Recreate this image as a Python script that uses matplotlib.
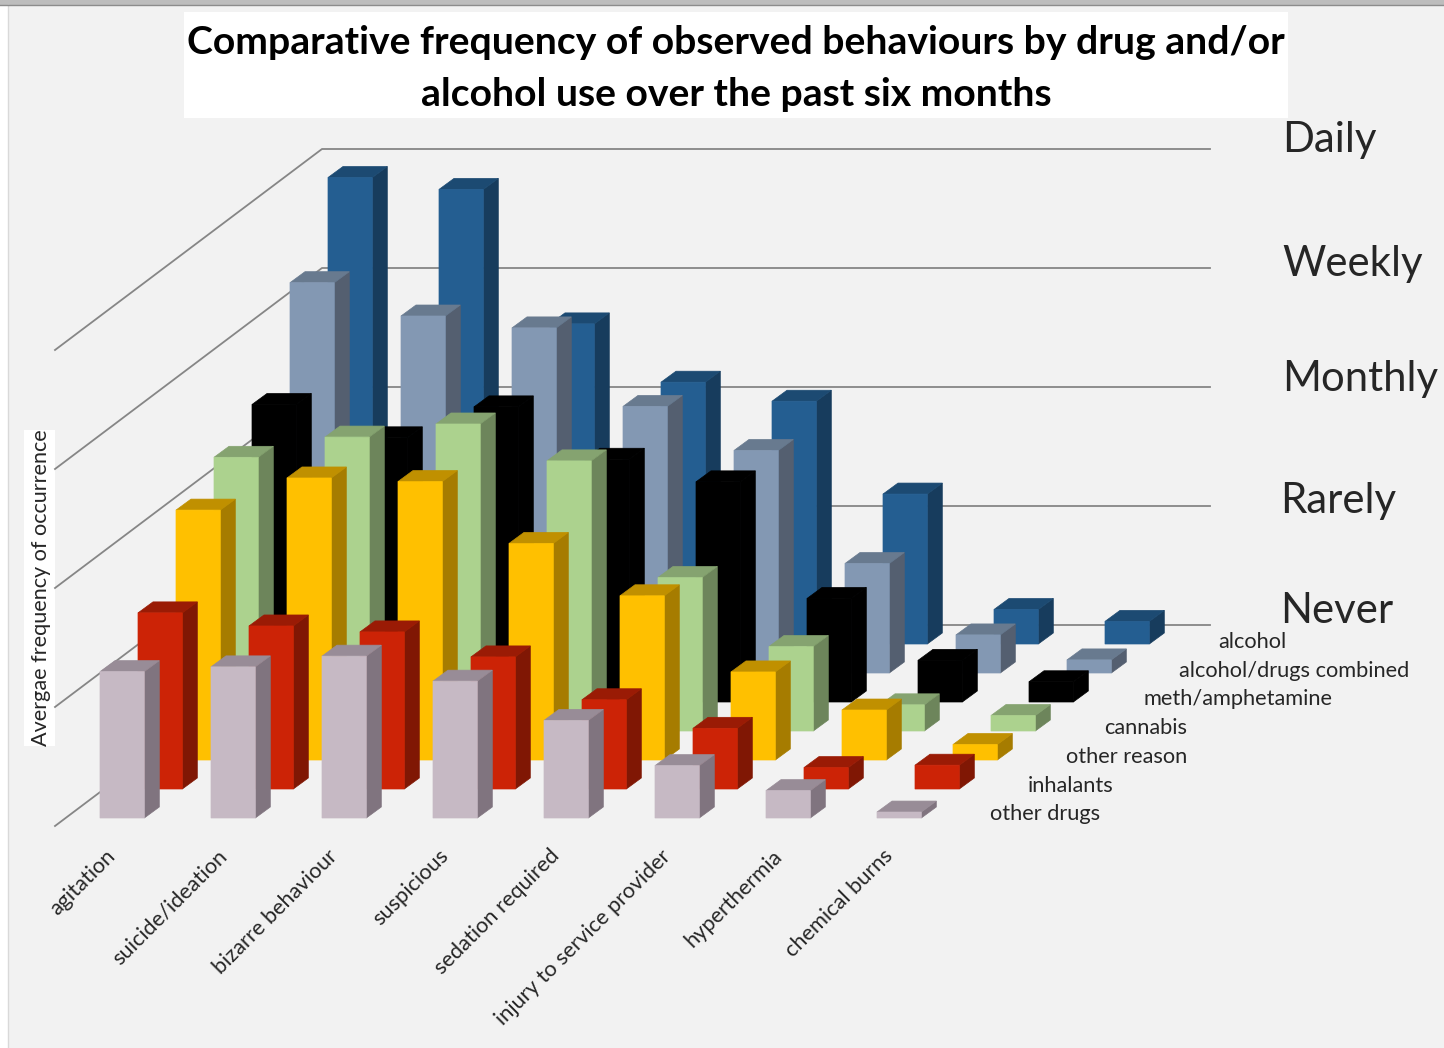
import matplotlib
matplotlib.use("Agg")
import matplotlib.pyplot as plt
from matplotlib.patches import Polygon, Rectangle

# ---- data: height above "Never" in scale steps (0 = Never ... 4 = Daily)
behaviours = ["agitation", "suicide/ideation", "bizarre behaviour", "suspicious",
              "sedation required", "injury to service provider", "hyperthermia", "chemical burns"]
levels = ["Never", "Rarely", "Monthly", "Weekly", "Daily"]
other_drugs = [1.23, 1.27, 1.36, 1.15, 0.82, 0.44, 0.23, 0.05]
inhalants = [1.48, 1.37, 1.32, 1.11, 0.75, 0.51, 0.18, 0.20]
other_reason = [2.10, 2.37, 2.34, 1.82, 1.38, 0.74, 0.42, 0.13]
cannabis = [2.30, 2.47, 2.58, 2.27, 1.29, 0.71, 0.22, 0.13]
meth = [2.50, 2.22, 2.48, 2.04, 1.85, 0.87, 0.35, 0.17]
combined = [3.28, 3.00, 2.90, 2.24, 1.87, 0.92, 0.32, 0.11]
alcohol = [3.92, 3.82, 2.69, 2.20, 2.04, 1.26, 0.29, 0.19]

series_names = ["other drugs", "inhalants", "other reason", "cannabis", "meth/amphetamine",
                "alcohol/drugs combined", "alcohol"]
series_values = [other_drugs, inhalants, other_reason, cannabis, meth, combined, alcohol]
face_colours = ["#c6b9c4", "#cc2306", "#ffc000", "#acd28e", "#000000", "#8398b3", "#245e91"]
top_colours = ["#988c97", "#9a1b05", "#c09000", "#85a370", "#000000", "#687a8f", "#1c4a72"]
side_colours = ["#80747f", "#801704", "#a67c00", "#6d855b", "#000000", "#545f70", "#173c5d"]

# ---- oblique projection (figure pixels)
X0, Y0 = 100.0, 818.0      # front-left corner of first bar in the first row
CAT_STEP = 111.0
ROW_DX, ROW_DY = 38.0, -29.0
BAR_W = 44.3
DEPTH_DX, DEPTH_DY = 15.0, -11.0
UNIT = 119.0


def project(cat, row, value=0.0):
    return (X0 + cat * CAT_STEP + row * ROW_DX, Y0 + row * ROW_DY - value * UNIT)


plt.rcParams["font.family"] = ["Lato", "DejaVu Sans"]
fig = plt.figure(figsize=(14.44, 10.48), dpi=100, facecolor="#ffffff")
ax = fig.add_axes([0, 0, 1, 1])
ax.set_xlim(0, 1444)
ax.set_ylim(1048, 0)
ax.axis("off")

# page background
ax.add_patch(Rectangle((8, 5), 1436, 1043, fc="#f2f2f2", ec="none", zorder=0))
ax.add_patch(Rectangle((0, 0), 1444, 5, fc="#bdbdbd", ec="none", zorder=1))
ax.plot([8, 8], [5, 1048], color="#d9d9d9", lw=1, zorder=1)
ax.plot([0, 1444], [5, 5], color="#8c8c8c", lw=1, zorder=1)

# title box
ax.add_patch(Rectangle((184, 12), 1104, 106, fc="white", ec="none", zorder=1))
ax.text(736, 43, "Comparative frequency of observed behaviours by drug and/or",
        ha="center", va="center", fontsize=28.2, fontweight="bold", color="black", zorder=2)
ax.text(736, 95, "alcohol use over the past six months",
        ha="center", va="center", fontsize=28.2, fontweight="bold", color="black", zorder=2)

# gridlines: one for each scale level, along the side wall then the back wall
n_rows = len(series_names)
for i, _ in enumerate(levels):
    y_front = Y0 + 8 - i * UNIT
    ax.plot([55, 322, 1210], [y_front, y_front - 201, y_front - 201], color="#868686", lw=1.3, zorder=2)

# bars, back row first
z = 3
for row in range(n_rows - 1, -1, -1):
    for cat in range(len(behaviours) - 1, -1, -1):
        v = series_values[row][cat]
        x, y_base = project(cat, row)
        _, y_top = project(cat, row, v)
        ax.add_patch(Polygon([(x + BAR_W, y_base), (x + BAR_W + DEPTH_DX, y_base + DEPTH_DY),
                              (x + BAR_W + DEPTH_DX, y_top + DEPTH_DY), (x + BAR_W, y_top)],
                             closed=True, fc=side_colours[row], ec=side_colours[row], lw=0.5,
                             zorder=z, snap=False))
        ax.add_patch(Polygon([(x, y_top), (x + BAR_W, y_top), (x + BAR_W + DEPTH_DX, y_top + DEPTH_DY),
                              (x + DEPTH_DX, y_top + DEPTH_DY)],
                             closed=True, fc=top_colours[row], ec=top_colours[row], lw=0.5,
                             zorder=z, snap=False))
        ax.add_patch(Rectangle((x, y_top), BAR_W, y_base - y_top, fc=face_colours[row],
                               ec=face_colours[row], lw=0.5, zorder=z, snap=False))
    z += 1

TXT = "#262626"
# scale labels
level_x = [1280, 1280, 1282, 1282, 1282]
level_y = [611, 501, 379, 264, 140]
for name, x, y in zip(levels, level_x, level_y):
    ax.text(x, y, name, ha="left", va="center", fontsize=30.2, color=TXT, zorder=20)

# series labels
series_cx = [1045, 1071, 1127, 1146, 1238, 1294, 1252]
series_cy = [814, 786, 757, 728, 699, 671, 642]
for name, x, y in zip(series_names, series_cx, series_cy):
    ax.text(x, y, name, ha="center", va="center", fontsize=15.7, color=TXT, zorder=20)

# category labels
for i, name in enumerate(behaviours):
    ax.text(105.5 + i * CAT_STEP, 846, name, ha="right", va="top", rotation=45,
            rotation_mode="anchor", fontsize=15.7, color=TXT, zorder=20)

# y-axis title
ax.add_patch(Rectangle((24, 430), 31, 316, fc="white", ec="none", zorder=1))
ax.text(41, 588, "Avergae frequency of occurrence", ha="center", va="center", rotation=90,
        fontsize=15.6, color=TXT, zorder=20)

fig.savefig("out.png", dpi=100)
